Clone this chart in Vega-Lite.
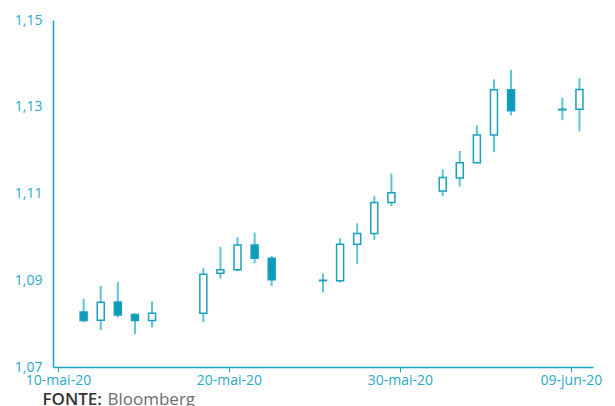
{
  "$schema": "https://vega.github.io/schema/vega-lite/v6.json",
  "width": 540,
  "height": 347,
  "autosize": {"type": "none"},
  "padding": {"left": 53, "top": 20, "right": 22, "bottom": 39},
  "background": "white",
  "config": {
    "view": {"stroke": null},
    "font": "Open Sans",
    "locale": {
      "number": {"decimal": ",", "thousands": ".", "grouping": [3], "currency": ["", " €"]},
      "time": {
        "dateTime": "%A, %e de %B de %Y. %X",
        "date": "%d/%m/%Y",
        "time": "%H:%M:%S",
        "periods": ["AM", "PM"],
        "days": ["domingo", "segunda", "terça", "quarta", "quinta", "sexta", "sábado"],
        "shortDays": ["dom", "seg", "ter", "qua", "qui", "sex", "sáb"],
        "months": ["janeiro", "fevereiro", "março", "abril", "maio", "junho", "julho", "agosto", "setembro", "outubro", "novembro", "dezembro"],
        "shortMonths": ["jan", "fev", "mar", "abr", "mai", "jun", "jul", "ago", "set", "out", "nov", "dez"]
      }
    }
  },
  "data": {
    "values": [
      {"date": "2020-05-11T12:00:00", "open": 1.0827, "high": 1.0857, "low": 1.0803, "close": 1.0807},
      {"date": "2020-05-12T12:00:00", "open": 1.0808, "high": 1.0887, "low": 1.0785, "close": 1.0849},
      {"date": "2020-05-13T12:00:00", "open": 1.0850, "high": 1.0896, "low": 1.0814, "close": 1.0820},
      {"date": "2020-05-14T12:00:00", "open": 1.0821, "high": 1.0824, "low": 1.0776, "close": 1.0807},
      {"date": "2020-05-15T12:00:00", "open": 1.0807, "high": 1.0851, "low": 1.0791, "close": 1.0824},
      {"date": "2020-05-18T12:00:00", "open": 1.0824, "high": 1.0928, "low": 1.0803, "close": 1.0914},
      {"date": "2020-05-19T12:00:00", "open": 1.0916, "high": 1.0977, "low": 1.0904, "close": 1.0924},
      {"date": "2020-05-20T12:00:00", "open": 1.0924, "high": 1.0999, "low": 1.0921, "close": 1.0981},
      {"date": "2020-05-21T12:00:00", "open": 1.0981, "high": 1.1010, "low": 1.0939, "close": 1.0951},
      {"date": "2020-05-22T12:00:00", "open": 1.0951, "high": 1.0956, "low": 1.0887, "close": 1.0901},
      {"date": "2020-05-25T12:00:00", "open": 1.0900, "high": 1.0916, "low": 1.0872, "close": 1.0899},
      {"date": "2020-05-26T12:00:00", "open": 1.0899, "high": 1.0997, "low": 1.0895, "close": 1.0983},
      {"date": "2020-05-27T12:00:00", "open": 1.0983, "high": 1.1031, "low": 1.0937, "close": 1.1008},
      {"date": "2020-05-28T12:00:00", "open": 1.1008, "high": 1.1094, "low": 1.0993, "close": 1.1079},
      {"date": "2020-05-29T12:00:00", "open": 1.1079, "high": 1.1146, "low": 1.1071, "close": 1.1102},
      {"date": "2020-06-01T12:00:00", "open": 1.1106, "high": 1.1156, "low": 1.1094, "close": 1.1137},
      {"date": "2020-06-02T12:00:00", "open": 1.1136, "high": 1.1198, "low": 1.1116, "close": 1.1171},
      {"date": "2020-06-03T12:00:00", "open": 1.1171, "high": 1.1257, "low": 1.1170, "close": 1.1235},
      {"date": "2020-06-04T12:00:00", "open": 1.1235, "high": 1.1363, "low": 1.1196, "close": 1.1339},
      {"date": "2020-06-05T12:00:00", "open": 1.1339, "high": 1.1385, "low": 1.1280, "close": 1.1291},
      {"date": "2020-06-08T12:00:00", "open": 1.1294, "high": 1.1321, "low": 1.1269, "close": 1.1293},
      {"date": "2020-06-09T12:00:00", "open": 1.1294, "high": 1.1366, "low": 1.1243, "close": 1.1340}
    ]
  },
  "encoding": {
    "x": {
      "field": "date",
      "type": "temporal",
      "scale": {"domain": [{"year": 2020, "month": 5, "date": 10}, {"year": 2020, "month": 6, "date": 10}]},
      "axis": {
        "title": "Bloomberg",
        "titleX": 54,
        "titleY": 37,
        "titleAlign": "left",
        "titleBaseline": "alphabetic",
        "titleFont": "Open Sans",
        "titleFontSize": 17,
        "titleFontWeight": 400,
        "titleColor": "#6b6b6b",
        "values": [
          {"year": 2020, "month": 5, "date": 10},
          {"year": 2020, "month": 5, "date": 20},
          {"year": 2020, "month": 5, "date": 30},
          {"year": 2020, "month": 6, "date": 9}
        ],
        "format": "%d-%b-%y",
        "labelFont": "Open Sans",
        "labelFontSize": 14,
        "labelColor": "#2aa8c8",
        "labelPadding": 1,
        "labelFlush": false,
        "labelOverlap": false,
        "domainColor": "#1aa5c4",
        "domainWidth": 1.5,
        "tickColor": "#1aa5c4",
        "tickSize": 5,
        "tickWidth": 1,
        "grid": false
      }
    }
  },
  "layer": [
    {
      "mark": {"type": "rule", "color": "#5cc4d6", "strokeWidth": 2},
      "encoding": {
        "y": {
          "field": "low",
          "type": "quantitative",
          "scale": {"domain": [1.07, 1.15], "nice": false, "zero": false},
          "axis": {
            "title": "FONTE:",
            "titleX": -11,
            "titleY": 384,
            "titleAngle": 0,
            "titleAlign": "left",
            "titleBaseline": "alphabetic",
            "titleFont": "Open Sans",
            "titleFontSize": 17,
            "titleFontWeight": 600,
            "titleColor": "#333333",
            "values": [1.07, 1.09, 1.11, 1.13, 1.15],
            "format": ".2f",
            "ticks": false,
            "grid": false,
            "labelFont": "Open Sans",
            "labelFontSize": 14,
            "labelColor": "#2aa8c8",
            "labelPadding": 11,
            "domainColor": "#1aa5c4",
            "domainWidth": 1.5
          }
        },
        "y2": {"field": "high"}
      }
    },
    {
      "mark": {"type": "bar", "size": 7, "stroke": "#1aa0bc", "strokeWidth": 1.5},
      "encoding": {
        "y": {"field": "open", "type": "quantitative"},
        "y2": {"field": "close"},
        "fill": {
          "condition": {"test": "datum.open > datum.close", "value": "#0a9cb8"},
          "value": "white"
        }
      }
    }
  ]
}
